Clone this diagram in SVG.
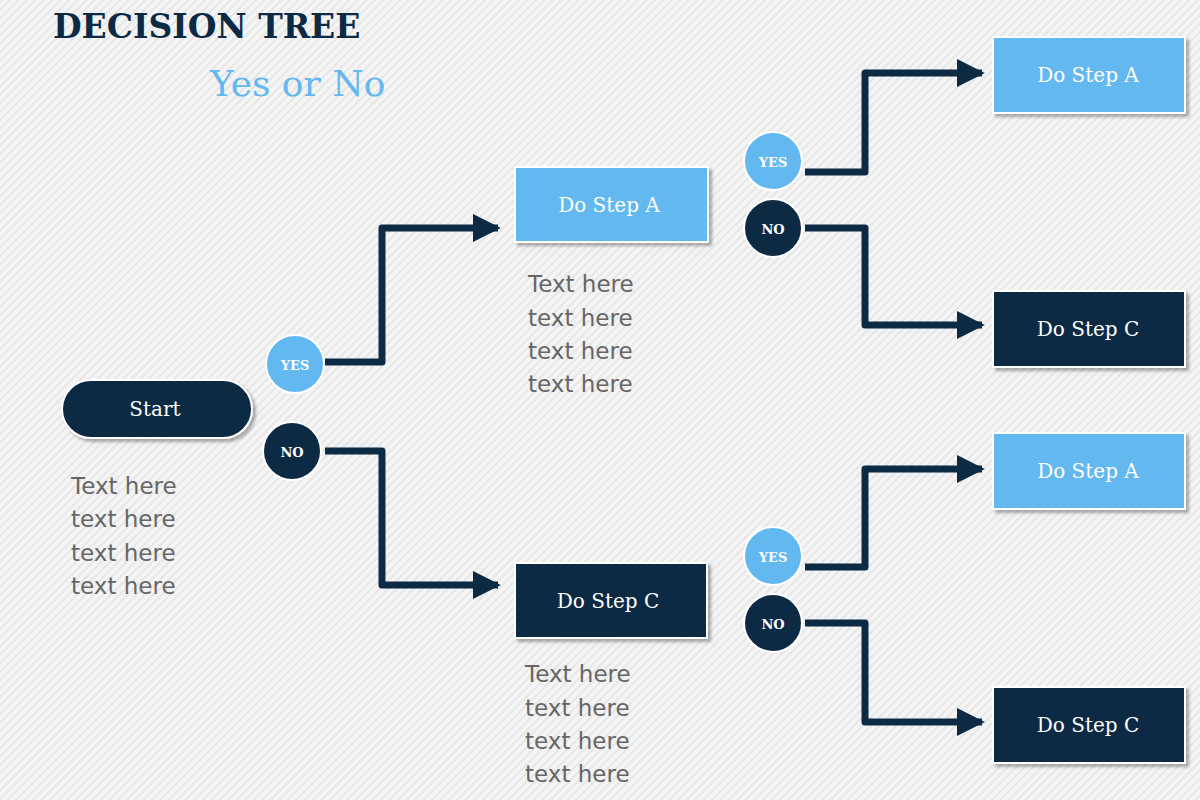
<svg xmlns="http://www.w3.org/2000/svg" width="1200" height="800" viewBox="0 0 1200 800">
<defs>
<pattern id="bg" width="6" height="6" patternUnits="userSpaceOnUse" patternTransform="rotate(45)">
<rect width="6" height="6" fill="#f4f4f4"/><rect width="2" height="6" fill="#e6e6e6"/>
</pattern>
<marker id="ah" viewBox="0 0 10 10" refX="9" refY="5" markerWidth="4" markerHeight="4" orient="auto" markerUnits="strokeWidth">
<path d="M0,0 L10,5 L0,10 Z" fill="#0d2a45"/>
</marker>
<filter id="sh" x="-10%" y="-10%" width="130%" height="140%"><feDropShadow dx="3" dy="3" stdDeviation="1.5" flood-color="#000" flood-opacity="0.3"/></filter>
</defs>
<style>
.t{font-family:"DejaVu Serif","Liberation Serif",serif}
.lb{fill:#63b8f0}.dk{fill:#0d2a45}
.box{stroke:#fff;stroke-width:2;filter:url(#sh)}
.bt{font-family:"DejaVu Serif",serif;font-size:20px;fill:#fff;text-anchor:middle;dominant-baseline:central}
.ct{font-family:"DejaVu Serif",serif;font-size:13px;font-weight:bold;fill:#fff;text-anchor:middle;dominant-baseline:central}
.ln{fill:none;stroke:#0d2a45;stroke-width:7;stroke-linejoin:round;marker-end:url(#ah)}
.tx{font-family:"DejaVu Sans","Open Sans",sans-serif;font-size:23px;fill:#666}
</style>
<rect width="1200" height="800" fill="url(#bg)"/>
<text class="t" x="53" y="38" font-size="33" font-weight="bold" fill="#0d2a45">DECISION TREE</text>
<text class="t" x="210" y="96" font-size="36" fill="#63b8f0">Yes or No</text>
<g id="connectors">
<path class="ln" d="M325,362 H382 V228 H498"/>
<path class="ln" d="M325,451 H382 V585 H498"/>
<path class="ln" d="M805,172 H865 V73 H982"/>
<path class="ln" d="M805,228 H865 V325 H982"/>
<path class="ln" d="M805,567 H865 V469 H982"/>
<path class="ln" d="M805,623 H865 V722 H982"/>
</g>
<g id="start"><rect class="dk box" x="62" y="380" width="190" height="58" rx="29"/><text class="bt" x="155" y="409">Start</text></g>
<g id="yes1"><circle class="lb" cx="295" cy="364" r="29" stroke="#fff" stroke-width="2"/><text class="ct" x="295" y="365">YES</text></g>
<g id="no1"><circle class="dk" cx="292" cy="451" r="29" stroke="#fff" stroke-width="2"/><text class="ct" x="292" y="452">NO</text></g>
<g id="a1"><rect class="lb box" x="515" y="167" width="193" height="75"/><text class="bt" x="609" y="205">Do Step A</text></g>
<g id="c1"><rect class="dk box" x="515" y="563" width="192" height="75"/><text class="bt" x="608" y="601">Do Step C</text></g>
<g id="yes2"><circle class="lb" cx="773" cy="161" r="29" stroke="#fff" stroke-width="2"/><text class="ct" x="773" y="162">YES</text></g>
<g id="no2"><circle class="dk" cx="773" cy="228" r="29" stroke="#fff" stroke-width="2"/><text class="ct" x="773" y="229">NO</text></g>
<g id="yes3"><circle class="lb" cx="773" cy="556" r="29" stroke="#fff" stroke-width="2"/><text class="ct" x="773" y="557">YES</text></g>
<g id="no3"><circle class="dk" cx="773" cy="623" r="29" stroke="#fff" stroke-width="2"/><text class="ct" x="773" y="624">NO</text></g>
<g id="a2"><rect class="lb box" x="993" y="37" width="192" height="76"/><text class="bt" x="1088" y="75">Do Step A</text></g>
<g id="c2"><rect class="dk box" x="993" y="291" width="192" height="76"/><text class="bt" x="1088" y="329">Do Step C</text></g>
<g id="a3"><rect class="lb box" x="993" y="433" width="192" height="76"/><text class="bt" x="1088" y="471">Do Step A</text></g>
<g id="c3"><rect class="dk box" x="993" y="687" width="192" height="76"/><text class="bt" x="1088" y="725">Do Step C</text></g>
<g id="txt1" class="tx"><text x="71" y="494">Text here</text><text x="71" y="527">text here</text><text x="71" y="561">text here</text><text x="71" y="594">text here</text></g>
<g id="txt2" class="tx"><text x="528" y="292">Text here</text><text x="528" y="326">text here</text><text x="528" y="359">text here</text><text x="528" y="392">text here</text></g>
<g id="txt3" class="tx"><text x="525" y="682">Text here</text><text x="525" y="716">text here</text><text x="525" y="749">text here</text><text x="525" y="782">text here</text></g>
</svg>
